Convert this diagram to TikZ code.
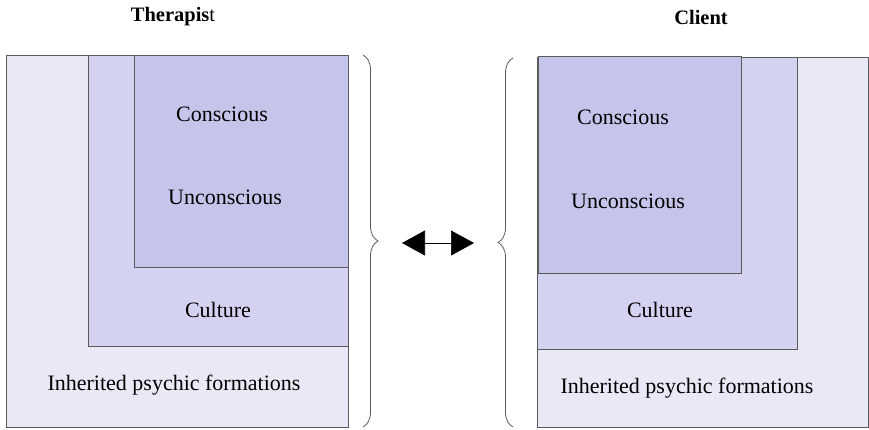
\documentclass[tikz,border=0pt]{standalone}
\usepackage{fontspec}
\setmainfont{Liberation Serif}
\usetikzlibrary{arrows.meta,decorations.pathreplacing}
\definecolor{outerc}{HTML}{E8E8F7}
\definecolor{culturec}{HTML}{D3D3F1}
\definecolor{innerc}{HTML}{C5C5EB}
\definecolor{edgec}{HTML}{5A5A5A}
\tikzset{
    layer/.style={draw=edgec, line width=0.8pt},
    lbl/.style={font=\fontsize{22}{25}\selectfont, inner sep=0pt},
    ttl/.style={font=\fontsize{20.5}{23}\selectfont, inner sep=0pt},
    curly/.style={draw=edgec, line width=0.8pt, decorate, decoration={brace, amplitude=15pt}}
}
\begin{document}
\begin{tikzpicture}[x=1pt, y=-1pt]
    \useasboundingbox (0,0) rectangle (869,430);

    %Therapist
    \node[ttl] (therapist) at (173,17) {\textbf{Therapis}t};
    \draw[layer, fill=outerc] (6,55) rectangle (348,427);
    \draw[layer, fill=culturec] (88,55) rectangle (348,346);
    \draw[layer, fill=innerc] (134,55) rectangle (348,267);
    \node[lbl] (tconsc) at (222,114) {Conscious};
    \node[lbl] (tuncon) at (225,197) {Unconscious};
    \node[lbl] (tcult) at (218,310) {Culture};
    \node[lbl] (tinher) at (174,385) {Inherited psychic formations};
    \draw[curly] (363,55) -- (363,427);
    \coordinate (ttip) at (378,243);

    %Client
    \node[ttl] (client) at (701,17) {\textbf{Client}};
    \draw[layer, fill=outerc] (537,57) rectangle (868,427);
    \draw[layer, fill=culturec] (537,57) rectangle (797,349);
    \draw[layer, fill=innerc] (538,56) rectangle (741,273);
    \node[lbl] (cconsc) at (623,117) {Conscious};
    \node[lbl] (cuncon) at (628,201) {Unconscious};
    \node[lbl] (ccult) at (660,310) {Culture};
    \node[lbl] (cinher) at (687,388) {Inherited psychic formations};
    \draw[curly] (513,427) -- (513,58);
    \coordinate (ctip) at (498,243);

    %arrow
    \draw[{Triangle[length=23pt,width=25pt]}-{Triangle[length=23pt,width=25pt]}, line width=0.6pt, shorten <=24pt, shorten >=24pt] (ttip) -- (ctip);
\end{tikzpicture}
\end{document}
